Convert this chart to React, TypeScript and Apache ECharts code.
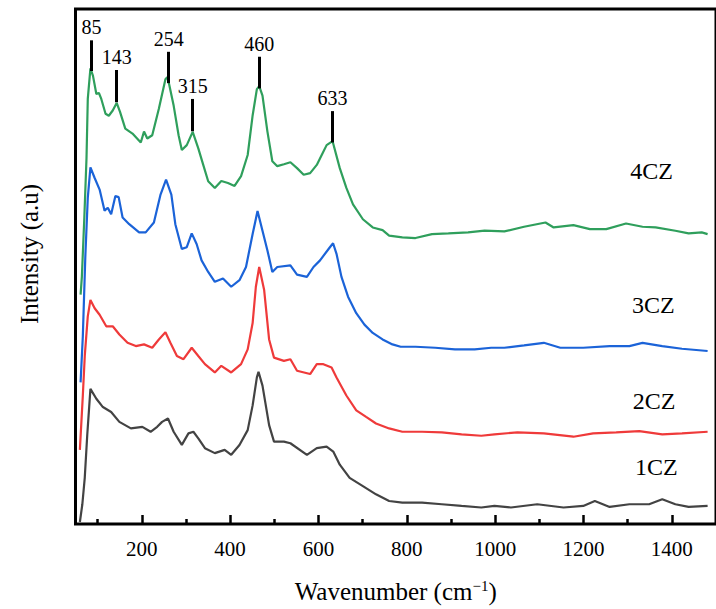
import React, { useEffect, useRef } from "react";
import * as echarts from "echarts";

// ---------- data (wavenumber cm^-1, intensity in arbitrary units) ----------
const wn4CZ = [61.5, 64.4, 70, 74.9, 77.8, 83.8, 89.6, 97.2, 103, 108.4, 118, 125.4, 134.3, 143.2, 150.8, 162.7, 179, 197.8, 205.1, 212.5, 223.7, 238.7, 253.6, 257.7, 261, 272.2, 283.4, 290.7, 301.9, 315.3, 328, 339.2, 350.4, 365.4, 380.1, 395.1, 410.1, 424.8, 439.8, 451, 460.6, 465.9, 473.3, 484.5, 495.6, 506.8, 521.8, 536.5, 551.5, 566.5, 581.2, 596.2, 607.4, 618.5, 632, 648.3, 663.2, 678.2, 700.6, 722.9, 745.2, 760, 789.9, 819.7, 857, 894.1, 938.8, 976.1, 1020.8, 1065.5, 1114, 1132.5, 1177.2, 1214.5, 1251.6, 1296.3, 1333.6, 1363.3, 1408, 1438, 1467.7, 1481];
const int4CZ = [232, 250, 310, 370, 430, 461, 453.3, 435, 436, 430, 415, 413, 418.3, 426, 417, 400, 395, 386, 397, 390, 393.3, 420, 450, 452, 447, 423.3, 393.3, 378.3, 383.3, 396.7, 380, 363.3, 346.7, 340, 347, 345, 342, 352, 373.3, 413.3, 440, 443, 433.3, 397, 367, 362, 364, 366, 360, 353.3, 355, 363.3, 373.3, 383.3, 387.3, 360, 340, 323.3, 308.3, 300, 297.3, 291.7, 290, 289.3, 293.3, 294, 295, 296.7, 296, 300.7, 305, 300, 302.3, 298.3, 298.3, 304, 300.7, 300, 296.7, 294, 295, 293.3];

const wn3CZ = [61.5, 66.6, 72.2, 77.8, 83.8, 93.4, 104.6, 115.8, 123.1, 130.7, 140.3, 147.7, 156.6, 171.6, 194, 208.9, 227.5, 242.5, 255, 267, 276, 290.7, 301.9, 313.1, 324.2, 335.4, 350.4, 365.4, 383.9, 402.5, 421.2, 436, 451, 462.1, 473.3, 484.5, 495.6, 506.8, 536.5, 551.5, 573.9, 588.8, 603.6, 625.9, 633.1, 640.9, 652.1, 667, 685.6, 704.1, 722.9, 745.2, 767.6, 786.1, 819.7, 864.4, 909, 953.7, 991.1, 1020.8, 1065.5, 1110.2, 1147.5, 1199.5, 1259.2, 1303.9, 1333.6, 1378.3, 1423, 1481];
const int3CZ = [143.3, 190, 270, 330, 360.7, 350, 338.3, 317, 320, 313.3, 331.7, 330.7, 310, 303.3, 295, 295, 305, 333.3, 348.3, 333.3, 303.3, 278.3, 280, 294, 283.3, 266.7, 255, 245, 248.3, 240, 246.7, 260, 293.3, 316.7, 296.7, 276.7, 255, 260, 261.7, 252.3, 250, 260, 266.7, 280, 284, 273.3, 250, 230, 213.3, 201.7, 193.3, 186.7, 181.7, 179.3, 179.3, 178.3, 176.7, 176.7, 178.3, 178.3, 180.7, 183.3, 178.3, 178.3, 180, 180, 183.3, 180, 177.3, 175];

const wn2CZ = [59.9, 66.6, 71, 77.8, 83.8, 93.4, 104.6, 119.6, 134.3, 149.3, 167.8, 186.6, 205.1, 223.7, 238.7, 253.6, 264.8, 279.6, 294.5, 313.1, 328, 343, 365.4, 380.1, 402.5, 424.8, 439.8, 451, 458.3, 465.9, 477.1, 488.3, 499.4, 521.8, 536.5, 551.5, 581.2, 596.2, 611.2, 629.7, 640.9, 663.2, 685.6, 707.9, 730.3, 760, 789.9, 834.6, 879.3, 924, 968.7, 998.4, 1050.5, 1110.2, 1177.2, 1221.9, 1274, 1326.3, 1378.3, 1423, 1481];
const int2CZ = [75, 130, 170, 210, 226.7, 218.3, 211.7, 200, 200, 191.7, 183.3, 180, 181.7, 178.3, 186.7, 194, 183.3, 170, 166.7, 178.3, 170, 161.7, 153.3, 160, 153.3, 161.7, 176.7, 203.3, 240, 260, 236.7, 186.7, 168.3, 165, 166.7, 155, 151.7, 161.7, 161.7, 158.3, 148.3, 130, 115, 108.3, 101.7, 96.7, 93.3, 93.3, 92.7, 90.7, 89.3, 90.7, 92.7, 91.7, 88.3, 91.7, 92.7, 94, 90.7, 91.7, 93.3];

const wn1CZ = [59.9, 65.5, 71, 76.6, 83.8, 97.2, 112, 130.7, 149.3, 175.4, 201.3, 220.1, 234.9, 246, 259.4, 272.2, 290.7, 305.7, 316.9, 328, 343, 365.4, 387.7, 402.5, 421.2, 439.8, 451, 460.6, 464.3, 473.3, 488.3, 499.4, 521.8, 536.5, 573.9, 596.2, 618.5, 633.5, 648.3, 670.6, 700.6, 730.3, 760, 789.9, 834.6, 879.3, 924, 968.7, 998.4, 1035.7, 1095.2, 1154.8, 1199.5, 1225.7, 1259.2, 1303.9, 1348.6, 1378.3, 1408, 1438, 1481];
const int1CZ = [2, 20, 47, 90, 136.7, 126.7, 118.3, 113.3, 103.3, 96.7, 98.3, 93.3, 98.3, 103.3, 106.7, 93.3, 80, 91.7, 93.3, 86.7, 76.7, 71.7, 75, 70, 80, 95, 120, 148.3, 154, 140, 100, 83.3, 83.3, 81.7, 70, 76.7, 78.3, 73.3, 60, 46.7, 38.3, 30, 23.3, 21.7, 21.7, 20, 18.3, 16.7, 18.3, 16.7, 20, 16.7, 18.3, 23.3, 17.3, 20, 20, 25, 20, 17.3, 18.3];

// peak annotations on the 4CZ curve
const peakLabels = ["85", "143", "254", "315", "460", "633"];
const peakPositions = [86, 143.2, 261, 315.3, 465.9, 632];
const peakLineTop = [489.3, 459.3, 477.7, 430, 472.7, 417.7];
const peakLineBottom = [458.3, 426.7, 446, 397.3, 440.7, 386];

// series names and label anchor points
const seriesNames = ["4CZ", "3CZ", "2CZ", "1CZ"];
const seriesLabelX = [1354, 1358, 1360, 1365];
const seriesLabelY = [357, 221.5, 124, 58];
const seriesColors = ["#2f9f5c", "#1b63d8", "#ef3a3a", "#434343"];

// axis ticks
const majorTicks = [200, 400, 600, 800, 1000, 1200, 1400];
const minorTicks = [100, 300, 500, 700, 900, 1100, 1300, 1500];

const FONT = "Liberation Serif";

export default function App() {
  const ref = useRef<HTMLDivElement>(null);

  useEffect(() => {
    if (!ref.current) return;
    const chart = echarts.init(ref.current, undefined, { renderer: "svg" });
    const wnAll = [wn4CZ, wn3CZ, wn2CZ, wn1CZ];
    const intAll = [int4CZ, int3CZ, int2CZ, int1CZ];

    const series: any[] = seriesNames.map((name, i) => ({
      name,
      type: "line",
      data: wnAll[i].map((x, j) => [x, intAll[i][j]]),
      showSymbol: false,
      symbol: "none",
      lineStyle: { color: seriesColors[i], width: 2.2 },
      itemStyle: { color: seriesColors[i] },
      z: 2,
      markPoint: {
        silent: true,
        symbol: "circle",
        symbolSize: 1,
        itemStyle: { color: "rgba(0,0,0,0)" },
        label: {
          show: true,
          position: "inside",
          formatter: name,
          color: "#000",
          fontSize: 24,
          fontFamily: FONT,
        },
        data: [{ name, coord: [seriesLabelX[i], seriesLabelY[i]] }],
      },
    }));

    series.push({
      name: "peaks",
      type: "line",
      data: [],
      markLine: {
        silent: true,
        symbol: ["none", "none"],
        lineStyle: { color: "#000", width: 3, type: "solid" },
        label: {
          show: true,
          position: "start",
          distance: 3,
          formatter: (p: any) => p.name,
          color: "#000",
          fontSize: 20,
          fontFamily: FONT,
        },
        data: peakLabels.map((lab, i) => [
          { name: lab, coord: [peakPositions[i], peakLineTop[i]] },
          { name: lab, coord: [peakPositions[i], peakLineBottom[i]] },
        ]),
      },
      z: 5,
    });

    chart.setOption({
      animation: false,
      textStyle: { fontFamily: FONT },
      grid: {
        left: 75.5,
        top: 9,
        bottom: 79,
        right: -8.4,
        show: true,
        borderColor: "#000",
        borderWidth: 3,
        backgroundColor: "transparent",
      },
      xAxis: [
        {
          type: "value",
          min: 50,
          max: 1500,
          axisLine: { show: false },
          splitLine: { show: false },
          axisTick: {
            show: true,
            inside: true,
            length: 9,
            lineStyle: { color: "#000", width: 2.5 },
            customValues: majorTicks,
          },
          axisLabel: {
            show: true,
            margin: 14,
            color: "#000",
            fontSize: 21,
            fontFamily: FONT,
            customValues: majorTicks,
            formatter: (v: number) => String(v),
          },
          name: "Wavenumber (cm{sup|\u22121})",
          nameLocation: "middle",
          nameGap: 54,
          nameTextStyle: {
            color: "#000",
            fontSize: 25,
            fontFamily: FONT,
            rich: {
              sup: {
                fontSize: 15,
                fontFamily: FONT,
                color: "#000",
                verticalAlign: "top",
                padding: [0, 0, 12, 0],
              },
            },
          },
        },
        {
          type: "value",
          min: 50,
          max: 1500,
          position: "bottom",
          axisLine: { show: false },
          splitLine: { show: false },
          axisLabel: { show: false },
          axisTick: {
            show: true,
            inside: true,
            length: 5,
            lineStyle: { color: "#000", width: 2.5 },
            customValues: minorTicks,
          },
        },
      ],
      yAxis: {
        type: "value",
        min: 0,
        max: 521,
        axisLine: { show: false },
        axisTick: { show: false },
        axisLabel: { show: false },
        splitLine: { show: false },
      },
      graphic: [
        {
          type: "text",
          x: 29,
          y: 254,
          rotation: Math.PI / 2,
          style: {
            text: "Intensity (a.u)",
            fill: "#000",
            fontSize: 25,
            fontFamily: FONT,
            textAlign: "center",
            textVerticalAlign: "middle",
          },
        },
      ],
      series,
    });

    return () => chart.dispose();
  }, []);

  return <div ref={ref} style={{ width: 716, height: 609, position: "absolute", left: 0, top: 0 }} />;
}
